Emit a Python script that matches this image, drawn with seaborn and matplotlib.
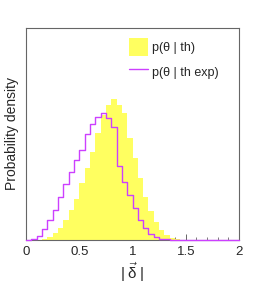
import numpy as np
import pandas as pd
import seaborn as sns
import matplotlib.pyplot as plt
from matplotlib.patches import Patch
from matplotlib.lines import Line2D
from matplotlib.ticker import MultipleLocator, NullLocator

# Histogram binning: 40 bins of width 0.05 on [0, 2]
bin_edges = list(np.round(np.linspace(0, 2, 41), 3))
bin_centers = [(a + b) / 2 for a, b in zip(bin_edges[:-1], bin_edges[1:])]

# p(theta | th) -- filled yellow histogram (density per bin)
p_th = [0, 0, 0, 0.014, 0.048, 0.096, 0.165, 0.275, 0.41, 0.56,
        0.78, 0.99, 1.21, 1.47, 1.72, 1.85, 1.94, 1.85, 1.74, 1.40,
        1.13, 0.85, 0.59, 0.40, 0.25, 0.14, 0.07, 0.03, 0.014, 0,
        0, 0, 0, 0, 0, 0, 0, 0, 0, 0]

# p(theta | th exp) -- purple step outline
p_th_exp = [0, 0.014, 0.055, 0.15, 0.275, 0.41, 0.59, 0.77, 0.93, 1.10,
            1.24, 1.46, 1.59, 1.69, 1.74, 1.68, 1.55, 1.02, 0.80, 0.62,
            0.44, 0.275, 0.165, 0.08, 0.04, 0.02, 0.007, 0, 0, 0,
            0, 0, 0, 0, 0, 0, 0, 0, 0, 0]

labels = ["p(θ | th)", "p(θ | th exp)"]
yellow = "#ffff60"
purple = "#cc40ff"

df = pd.DataFrame({"x": bin_centers, "th": p_th, "exp": p_th_exp})

sns.set_style("white")
plt.rcParams["font.family"] = ["Liberation Sans", "DejaVu Sans"]
plt.rcParams["mathtext.fontset"] = "custom"
plt.rcParams["mathtext.rm"] = "Liberation Sans"
plt.rcParams["mathtext.it"] = "Liberation Sans"

fig = plt.figure(figsize=(2.66, 2.83), dpi=100)
ax = fig.add_axes([26 / 266, 1 - 240 / 283, 213 / 266, 212 / 283])

sns.histplot(data=df, x="x", weights="th", bins=bin_edges, stat="count",
             element="bars", fill=True, color=yellow, alpha=1, linewidth=0,
             ax=ax)
sns.histplot(data=df, x="x", weights="exp", bins=bin_edges, stat="count",
             element="step", fill=False, color=purple, linewidth=1.0, ax=ax,
             zorder=3)
for ln in ax.lines:
    ln.set_clip_on(False)

ax.set_xlim(0, 2)
ax.set_ylim(0, 2.91)
ax.xaxis.set_minor_locator(MultipleLocator(0.1))
ax.set_xticks([0, 0.5, 1, 1.5, 2])
ax.set_xticklabels(["0", "0.5", "1", "1.5", "2"])
ax.yaxis.set_major_locator(NullLocator())
ax.tick_params(axis="x", which="major", direction="in", length=4.5, width=0.7,
               color="#666666", labelsize=9.5, pad=4, bottom=True)
ax.tick_params(axis="x", which="minor", direction="in", length=2.5, width=0.6,
               color="#666666", bottom=True)

for sp in ax.spines.values():
    sp.set_visible(True)
    sp.set_color("#666666")
    sp.set_linewidth(0.8)

ax.set_xlabel(r"$|\;\vec{\delta}\;|$", fontsize=11, labelpad=2)
ax.set_ylabel("Probability density", fontsize=10, labelpad=5)

handles = [Patch(facecolor=yellow, edgecolor="none"),
           Line2D([0], [0], color=purple, linewidth=1.0)]
ax.legend(handles, labels, loc="upper left", bbox_to_anchor=(0.484, 0.955),
          frameon=False, fontsize=9, handlelength=1.55, handleheight=1.85,
          handletextpad=0.3, labelspacing=0.55, borderpad=0, borderaxespad=0)

fig.savefig("out.png", dpi=100)
